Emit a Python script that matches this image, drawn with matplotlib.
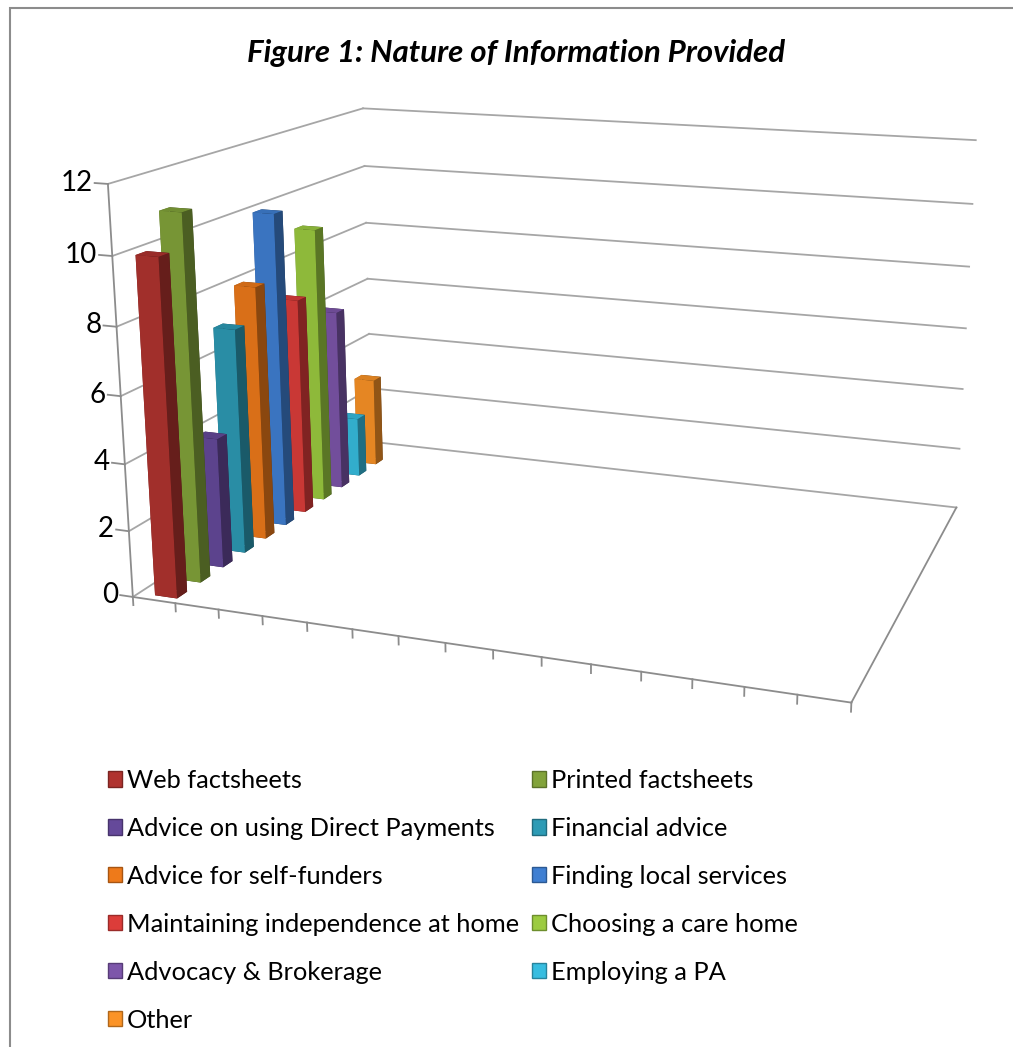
import matplotlib
matplotlib.use("Agg")
import matplotlib.pyplot as plt
import numpy as np
from matplotlib.colors import LightSource, to_rgb
from matplotlib.patches import Patch, Rectangle

# data (all bars sit in the first category)
series = ["Web factsheets", "Printed factsheets", "Advice on using Direct Payments",
          "Financial advice", "Advice for self-funders", "Finding local services",
          "Maintaining independence at home", "Choosing a care home",
          "Advocacy & Brokerage", "Employing a PA", "Other"]
values = [10, 11, 4, 7, 8, 10, 7, 9, 6, 2, 3]
colors = ["#b0332f", "#82a33a", "#65499a", "#2d9bb5", "#ee7a1a", "#3f7fd2",
          "#dc3d3a", "#9ccb40", "#7d56aa", "#37bde0", "#fb9326"]
n_categories = 15
z_ticks = [0, 2, 4, 6, 8, 10, 12]
title = "Figure 1: Nature of Information Provided"

plt.rcParams['font.family'] = ['Lato', 'DejaVu Sans']

fig = plt.figure(figsize=(10.13, 10.47), dpi=100)
ax = fig.add_axes([0.0810, 0.1901, 0.9378, 0.9074], projection='3d')
ax.set_proj_type('persp', focal_length=0.39)
ax.view_init(elev=15, azim=-70)
nser = len(series)
depth = nser + 1  # the depth axis keeps one empty row behind the last series
ax.set_xlim(0, n_categories)
ax.set_ylim(0, depth)
ax.set_zlim(0, z_ticks[-1])
ax.set_box_aspect((n_categories, 11.4, 8.6), zoom=0.99)
ax.set_axis_off()
ax.computed_zorder = False

grid_c = '#a6a6a6'
axis_c = '#8c8c8c'

# walls: side wall at x=0 and back wall at the far end of the depth axis
for t in z_ticks:
    ax.plot([0, 0], [0, depth], [t, t], color=grid_c, lw=1.3, zorder=1)
    ax.plot([0, n_categories], [depth, depth], [t, t], color=grid_c, lw=1.3, zorder=1)
    ax.plot([0, -0.3], [0, 0], [t, t], color=axis_c, lw=1.3, zorder=1)

ax.plot([0, 0], [0, 0], [0, z_ticks[-1]], color=axis_c, lw=1.3, zorder=1)
# floor outline + category ticks
ax.plot([0, n_categories], [0, 0], [0, 0], color=axis_c, lw=1.3, zorder=3)
ax.plot([n_categories, n_categories], [0, depth], [0, 0], color=axis_c, lw=1.3, zorder=1)
for k in range(n_categories + 1):
    ax.plot([k, k], [0, 0], [0, -0.25], color=axis_c, lw=1.3, zorder=3)

# bars, one depth row per series
xs = [0.38] * nser
ys = [i + 0.25 for i in range(nser)]
ax.bar3d(xs, ys, [0] * nser, 0.52, 0.42, values, color=colors, shade=True,
         lightsource=LightSource(azdeg=195, altdeg=39), linewidth=0, zorder=2)

# value labels of the vertical axis, placed at the projected tick position
M = ax.get_proj()
for t in z_ticks:
    v = M @ np.array([-0.35, 0, t, 1.0])
    ax.text2D(v[0] / v[3], v[1] / v[3], str(t), transform=ax.transData,
              ha='right', va='center', fontsize=20)

# legend, filled row by row in two columns
order = list(range(0, nser, 2)) + list(range(1, nser, 2))
handles = []
for i in order:
    r, g, b = to_rgb(colors[i])
    handles.append(Patch(facecolor=colors[i], edgecolor=(r * 0.7, g * 0.7, b * 0.7)))
fig.legend(handles, [series[i] for i in order], ncol=2, loc='upper left',
           bbox_to_anchor=(108 / 1013, 1 - 769 / 1047), frameon=False, fontsize=18.3,
           borderpad=0, borderaxespad=0, handlelength=0.55, handleheight=0.55,
           handletextpad=0.2, columnspacing=0.5, labelspacing=0.98)

fig.text(516 / 1013, 1 - 53 / 1047, title, ha='center', va='center',
         fontsize=22.5, fontweight='bold', fontstyle='italic')

fig.add_artist(Rectangle((10 / 1013, -0.05), 1.2, 1.05 - 8 / 1047, transform=fig.transFigure,
                         fill=False, edgecolor='#8c8c8c', lw=1.5))

fig.savefig('out.png', dpi=100)
